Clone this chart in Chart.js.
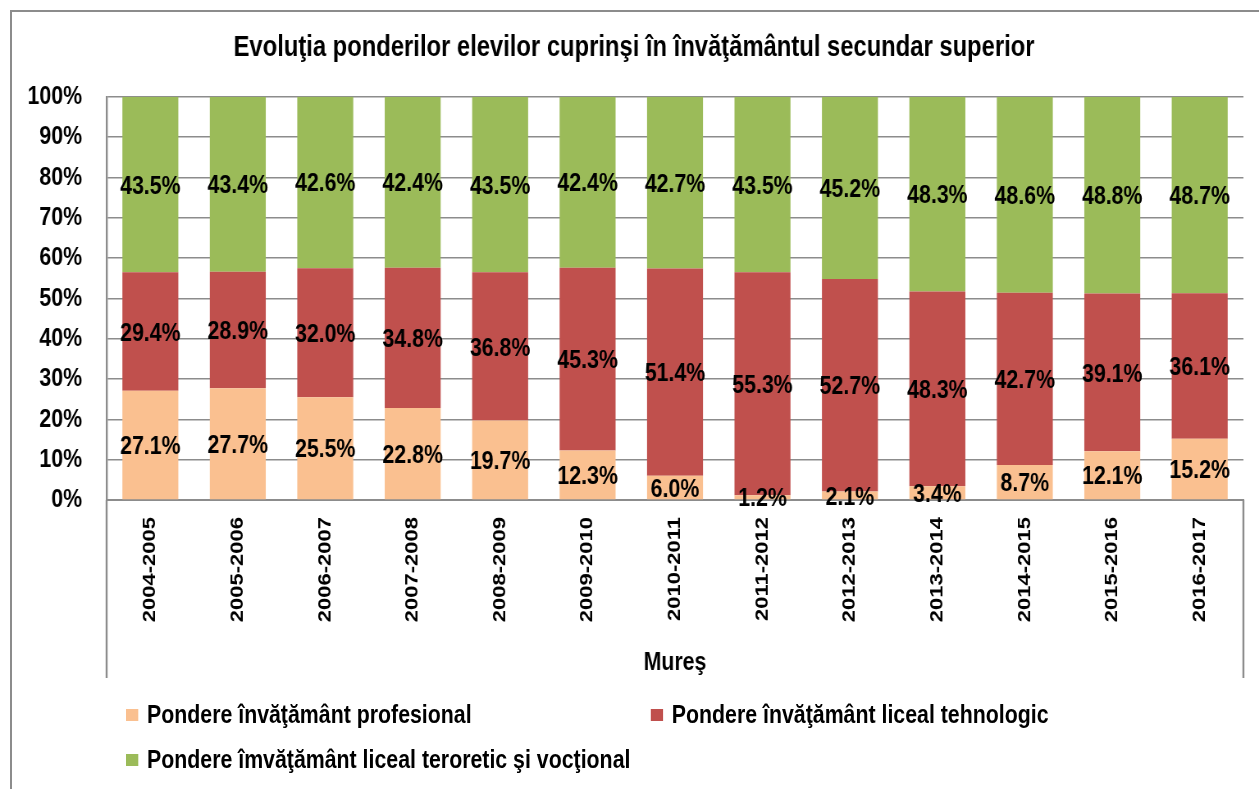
<!DOCTYPE html>
<html>
<head>
<meta charset="utf-8">
<script src="https://cdn.jsdelivr.net/npm/chart.js@4/dist/chart.umd.min.js"></script>
<style>
  body { margin: 0; overflow: hidden; background: #fff; }
  #wrap { position: relative; width: 1259px; height: 789px; overflow: hidden; }
  /* canvas is drawn wider and squeezed to get the narrow bold look of the original */
  #chart { position: absolute; left: 0; top: 0; width: 1259px !important; height: 789px !important; }
  #frame { position: absolute; left: 10px; top: 10px; width: 1400px; height: 900px; border: 2px solid #8c8c8c; box-sizing: border-box; pointer-events: none; }
  #legend { position: absolute; left: 126px; top: 692px; display: grid; grid-template-columns: 640px auto; grid-auto-rows: 45px;
            transform: scaleX(0.82); transform-origin: left top; }
  .item { display: flex; align-items: center; font: bold 26px 'Liberation Sans', Arial, sans-serif; color: #000; white-space: nowrap; }
  .box { width: 14.6px; height: 12px; margin-right: 11px; flex: none; }
</style>
</head>
<body>
<div id="wrap">
  <canvas id="chart" width="1535" height="789"></canvas>
  <div id="frame"></div>
  <div id="legend"></div>
</div>
<script>
const FONT = "'Liberation Sans', Arial, sans-serif";

const years = ['2004-2005', '2005-2006', '2006-2007', '2007-2008', '2008-2009', '2009-2010', '2010-2011',
    '2011-2012', '2012-2013', '2013-2014', '2014-2015', '2015-2016', '2016-2017'];
const profesional = [27.1, 27.7, 25.5, 22.8, 19.7, 12.3, 6.0, 1.2, 2.1, 3.4, 8.7, 12.1, 15.2];
const tehnologic = [29.4, 28.9, 32.0, 34.8, 36.8, 45.3, 51.4, 55.3, 52.7, 48.3, 42.7, 39.1, 36.1];
const teoretic = [43.5, 43.4, 42.6, 42.4, 43.5, 42.4, 42.7, 43.5, 45.2, 48.3, 48.6, 48.8, 48.7];
const yTicks = [0, 10, 20, 30, 40, 50, 60, 70, 80, 90, 100];

// labels in the middle of each segment
const segmentLabels = {
    id: 'segmentLabels',
    afterDatasetsDraw(chart) {
        const ctx = chart.ctx;
        ctx.save();
        ctx.font = 'bold 26px ' + FONT;
        ctx.fillStyle = '#000';
        ctx.textAlign = 'center';
        ctx.textBaseline = 'middle';
        chart.data.datasets.forEach((ds, i) => {
            chart.getDatasetMeta(i).data.forEach((bar, j) => {
                ctx.fillText(ds.data[j].toFixed(1) + '%', bar.x, (bar.y + bar.base) / 2 + 2);
            });
        });
        ctx.restore();
    }
};

// side lines around the category labels
const axisBox = {
    id: 'axisBox',
    beforeDatasetsDraw(chart) {
        const { ctx, chartArea } = chart;
        const bottom = chart.scales.x.bottom;
        ctx.save();
        ctx.strokeStyle = '#8c8c8c';
        ctx.lineWidth = 2.4;
        ctx.beginPath();
        ctx.moveTo(chartArea.left, chartArea.bottom);
        ctx.lineTo(chartArea.left, bottom);
        ctx.moveTo(chartArea.right, chartArea.bottom);
        ctx.lineTo(chartArea.right, bottom);
        ctx.stroke();
        ctx.restore();
    }
};

const chart = new Chart(document.getElementById('chart'), {
    type: 'bar',
    data: {
        labels: years,
        datasets: [
            { label: 'Pondere învăţământ profesional', data: profesional, backgroundColor: '#FAC090' },
            { label: 'Pondere învăţământ liceal tehnologic', data: tehnologic, backgroundColor: '#C0504D' },
            { label: 'Pondere îmvăţământ liceal teroretic şi vocţional', data: teoretic, backgroundColor: '#9BBB59' }
        ]
    },
    options: {
        responsive: false,
        animation: false,
        devicePixelRatio: 1,
        barPercentage: 0.64,
        categoryPercentage: 1,
        layout: { padding: { left: 30, right: 19, top: 0, bottom: 111 } },
        plugins: {
            legend: { display: false },
            tooltip: { enabled: false },
            title: {
                display: true,
                text: 'Evoluţia ponderilor elevilor cuprinşi în învăţământul secundar superior',
                color: '#000',
                font: { family: FONT, size: 29, weight: 'bold' },
                padding: { top: 31, bottom: 31 }
            }
        },
        scales: {
            x: {
                stacked: true,
                grid: { display: false, drawTicks: false },
                border: { display: true, color: '#8c8c8c', width: 2 },
                ticks: {
                    color: '#000',
                    font: { family: FONT, size: 22, weight: 'bold' },
                    minRotation: 90,
                    maxRotation: 90,
                    autoSkip: false,
                    padding: 17
                },
                title: {
                    display: true,
                    text: 'Mureş',
                    color: '#000',
                    font: { family: FONT, size: 26, weight: 'bold' },
                    padding: { top: 0, bottom: 0 }
                },
                afterFit(scale) { scale.height = 178; }
            },
            y: {
                stacked: true,
                min: 0,
                max: 100,
                afterBuildTicks(scale) { scale.ticks = yTicks.map(v => ({ value: v })); },
                grid: { color: '#8c8c8c', lineWidth: 1.5, drawTicks: false },
                border: { display: true, color: '#8c8c8c', width: 2.4 },
                ticks: {
                    color: '#000',
                    font: { family: FONT, size: 26, weight: 'bold' },
                    padding: 30,
                    callback: v => v + '%'
                },
                afterFit(scale) { scale.width = 100; }
            }
        }
    },
    plugins: [segmentLabels, axisBox]
});

// legend in two columns like the original
document.getElementById('legend').innerHTML = chart.data.datasets
    .map(ds => `<div class="item"><span class="box" style="background:${ds.backgroundColor}"></span>${ds.label}</div>`)
    .join('');
</script>
</body>
</html>
